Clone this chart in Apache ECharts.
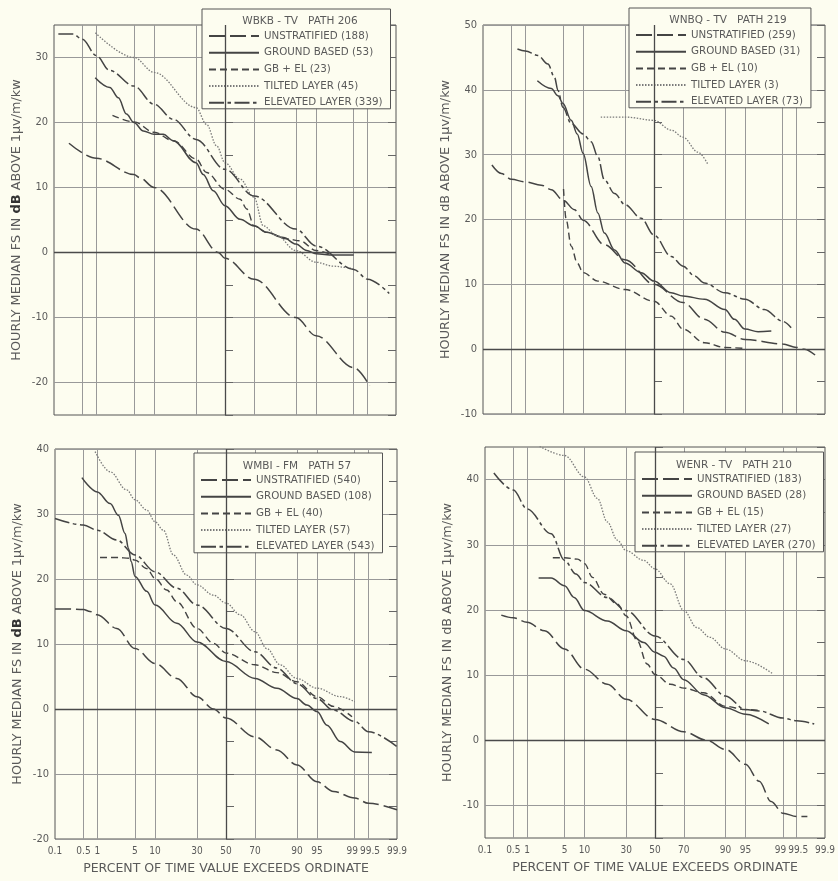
<!DOCTYPE html>
<html><head><meta charset="utf-8">
<script src="https://cdn.jsdelivr.net/npm/echarts@6/dist/echarts.min.js"></script>
<style>html,body{margin:0;padding:0;background:#fdfdf0}#c{width:838px;height:881px}</style>
</head><body><div id="c"></div>
<script>
// ---------- DATA (x = percent of time, y = dB) ----------
const xTickLabels = ['0.1','0.5','1','5','10','30','50','70','90','95','99','99.5','99.9'];
const xGridPct = [0.5,1,5,10,30,50,70,90,95,99,99.5];

// Panel 1: WBKB-TV PATH 206
const p1Title = 'WBKB - TV   PATH 206';
const p1Names = ['UNSTRATIFIED (188)','GROUND BASED (53)','GB + EL (23)','TILTED LAYER (45)','ELEVATED LAYER (339)'];
const p1Unstratified = [[0.24,16.8],[1,14.5],[5,12.0],[6.2,11.5],[10,10.0],[30,3.6],[45.2,0],[50,-0.9],[70,-4.1],[90,-10],[95,-12.8],[99,-17.7],[99.55,-20.5]];
const p1Ground = [[0.95,26.9],[1.87,25.4],[2.7,23.8],[3.75,21.3],[5,20],[7,18.7],[10,18.2],[13.2,18.2],[17.5,17.2],[30,13.8],[34.7,12],[41.6,9.5],[50,7.2],[60.7,5.1],[70,4.1],[77.5,3.1],[85.5,2.3],[90,1.3],[93,0.3],[95,-0.2],[97.5,-0.4],[99,-0.4]];
const p1GbEl = [[2.1,21.1],[5,20.1],[10,18.5],[17.5,17.2],[30,14.4],[37,12.3],[50,9.7],[60.7,8.2],[65.3,6.7],[70,4.1],[77.5,3.1],[86.8,2.1],[91.3,1.8],[95,0.3],[97.5,-0.5]];
const p1Tilted = [[0.96,33.8],[5,30],[10,27.7],[30,22.3],[37,19.7],[44,16.4],[50,13.8],[60.7,11.3],[70,8.5],[75.6,4.1],[82.5,2.6],[90,0.3],[95,-1.5],[97.5,-2.1],[98.6,-2.3],[99,-2.6]];
const p1Elevated = [[0.13,33.6],[0.3,33.6],[0.5,32.8],[1,30.3],[1.87,28],[5,25.6],[10,22.8],[17.5,20.5],[30,17.4],[50,12.8],[70,8.7],[90,3.6],[95,1.0],[99,-2.6],[99.5,-4.1],[99.85,-6.3]];

// Panel 2: WNBQ-TV PATH 219
const p2Title = 'WNBQ - TV   PATH 219';
const p2Names = ['UNSTRATIFIED (259)','GROUND BASED (31)','GB + EL (10)','TILTED LAYER (3)','ELEVATED LAYER (73)'];
const p2Unstratified = [[0.17,28.4],[0.29,27.1],[0.5,26.2],[1,25.8],[2.08,25.3],[3.17,24.6],[5,23.0],[7.55,21.5],[10,19.9],[18.5,16.1],[30,13.8],[50,10.0],[70,7.2],[81.9,4.6],[90,2.6],[95,1.5],[99,0.8],[99.5,0.26],[99.67,0],[99.82,-0.9]];
const p2Ground = [[1.75,41.4],[3.17,40.2],[4.13,39.1],[5,37.9],[6.73,35.3],[8.26,33.2],[10,30.2],[12.8,25.1],[15.5,21.0],[18.5,17.9],[23.8,15.3],[30,13.3],[40.8,11.8],[50,10.5],[62.2,8.7],[70,8.2],[81.9,7.7],[90,6.1],[92.7,4.6],[95,3.1],[97,2.7],[98.3,2.8]];
const p2GbEl = [[5.1,24.7],[5.64,19.9],[6.73,15.9],[8.26,13.3],[10,11.8],[15.5,10.5],[30,9.2],[50,7.4],[62.2,5.1],[70,3.1],[81.9,1.0],[90,0.26],[95,0.1]];
const p2Tilted = [[16.8,35.8],[30,35.8],[50,35.3],[62.2,33.8],[70,32.7],[78.6,30.4],[83.7,28.4]];
const p2Elevated = [[0.68,46.3],[1,46.0],[1.8,45.3],[2.76,44.0],[3.62,41.9],[4.13,39.9],[5,37.3],[6.73,34.8],[10,33.2],[12.8,32.0],[15.5,29.7],[18.5,26.1],[23.8,24.0],[30,22.3],[40.8,20.2],[50,17.6],[62.2,14.3],[70,12.8],[76.8,11.3],[81.9,10.2],[90,8.7],[95,7.7],[97.7,6.1],[99,4.3],[99.34,3.3]];

// Panel 3: WMBI-FM PATH 57
const p3Title = 'WMBI - FM   PATH 57';
const p3Names = ['UNSTRATIFIED (540)','GROUND BASED (108)','GB + EL (40)','TILTED LAYER (57)','ELEVATED LAYER (543)'];
const p3Unstratified = [[0.1,15.4],[0.2,15.4],[0.5,15.3],[0.7,15.0],[1,14.5],[2.42,12.4],[5,9.3],[10,7.0],[18.7,4.7],[30,1.9],[41.1,0],[50,-1.4],[70,-4.3],[82.1,-6.3],[90,-8.6],[95,-11.2],[97.4,-12.7],[99,-13.7],[99.5,-14.5],[99.9,-15.5]];
const p3Ground = [[0.46,35.6],[1,33.4],[1.81,31.6],[2.59,29.8],[3.41,27.0],[3.9,24.7],[4.32,22.7],[5,20.4],[7.6,18.1],[10,16.0],[18.7,13.2],[30,10.3],[50,7.3],[70,4.7],[82.1,3.2],[90,1.6],[92.8,0.6],[95,-0.4],[96.6,-2.5],[98.05,-5.0],[99,-6.6],[99.58,-6.7]];
const p3GbEl = [[1.14,23.3],[2.42,23.3],[4.15,23.2],[5,22.9],[7.6,21.6],[10,20.1],[14.2,18.3],[18.7,16.5],[30,12.4],[41.1,10.1],[50,8.6],[70,6.8],[82.1,5.6],[90,4.2],[95,1.9],[97.4,0.4],[98.86,-1.2]];
const p3Tilted = [[0.9,39.6],[1.81,36.5],[3.64,33.7],[5,32.2],[7.6,30.6],[10,28.8],[12.9,27.5],[17.1,23.7],[23.9,20.6],[30,19.1],[41.1,17.5],[50,16.3],[60.1,14.5],[70,11.9],[77,9.3],[83.6,6.8],[90,4.7],[95,3.2],[98.05,1.9],[99,1.1]];
const p3Elevated = [[0.1,29.3],[0.5,28.3],[1,27.5],[2.42,26.0],[5,23.7],[10,21.1],[18.7,18.6],[30,16.0],[50,12.4],[70,8.8],[82.1,6.3],[90,3.9],[95,1.6],[97.4,-0.2],[99,-1.9],[99.5,-3.5],[99.9,-5.8]];

// Panel 4: WENR-TV PATH 210
const p4Title = 'WENR - TV   PATH 210';
const p4Names = ['UNSTRATIFIED (183)','GROUND BASED (28)','GB + EL (15)','TILTED LAYER (27)','ELEVATED LAYER (270)'];
const p4Unstratified = [[0.26,19.2],[0.5,18.8],[1,18.1],[2.23,16.8],[5,14.0],[10,10.9],[19.3,8.6],[30,6.3],[50,3.2],[70,1.3],[82.6,0],[90,-1.4],[95,-3.7],[97.1,-6.3],[98.26,-9.4],[99,-11.2],[99.5,-11.7],[99.72,-11.7]];
const p4Ground = [[1.72,24.9],[2.95,24.9],[5,23.7],[7.1,21.9],[10,19.9],[19.3,18.3],[30,16.8],[41.9,15.0],[50,13.5],[56.2,12.9],[63.2,11.1],[70,9.3],[81,7.0],[90,5.0],[95,4.0],[98.07,2.5]];
const p4GbEl = [[3.16,28.0],[5,28.0],[7.97,27.8],[10,27.1],[12.8,25.0],[17.7,22.4],[24.7,20.9],[30,19.1],[37.3,15.3],[44.3,11.7],[50,10.1],[60.9,8.6],[70,8.0],[81,7.3],[90,5.2],[95,4.7],[96.9,4.6]];
const p4Tilted = [[1.8,45.1],[5,43.7],[10,40.4],[14.8,37.1],[19.3,33.5],[24.7,30.7],[30,29.1],[41.9,27.6],[50,26.3],[60.9,24.0],[70,19.9],[77.6,17.3],[84.1,15.8],[90,14.0],[95,12.2],[98.38,10.2]];
const p4Elevated = [[0.17,41.0],[0.5,38.4],[1,35.5],[2.95,31.7],[5,27.6],[7.54,25.5],[10,24.2],[19.3,21.9],[30,19.9],[50,16.0],[70,12.4],[81,9.6],[90,6.8],[95,4.7],[97.1,4.5],[99,3.4],[99.5,3.0],[99.81,2.5]];

const yRanges = [[-25,35],[-10,50],[-20,40],[-15,45]];
const emphasisPct = 50, emphasisY = 0;

// ---------- probability (normal) scale ----------
function probit(p){
  const a=[-3.969683028665376e+01,2.209460984245205e+02,-2.759285104469687e+02,1.383577518672690e+02,-3.066479806614716e+01,2.506628277459239e+00];
  const b=[-5.447609879822406e+01,1.615858368580409e+02,-1.556989798598866e+02,6.680131188771972e+01,-1.328068155288572e+01];
  const c=[-7.784894002430293e-03,-3.223964580411365e-01,-2.400758277161838e+00,-2.549732539343734e+00,4.374664141464968e+00,2.938163982698783e+00];
  const d=[7.784695709041462e-03,3.224671290700398e-01,2.445134137142996e+00,3.754408661907416e+00];
  const pl=0.02425, ph=1-pl; let q,r;
  if(p<pl){q=Math.sqrt(-2*Math.log(p));return (((((c[0]*q+c[1])*q+c[2])*q+c[3])*q+c[4])*q+c[5])/((((d[0]*q+d[1])*q+d[2])*q+d[3])*q+1);}
  if(p<=ph){q=p-0.5;r=q*q;return (((((a[0]*r+a[1])*r+a[2])*r+a[3])*r+a[4])*r+a[5])*q/(((((b[0]*r+b[1])*r+b[2])*r+b[3])*r+b[4])*r+1);}
  q=Math.sqrt(-2*Math.log(1-p));return -(((((c[0]*q+c[1])*q+c[2])*q+c[3])*q+c[4])*q+c[5])/((((d[0]*q+d[1])*q+d[2])*q+d[3])*q+1);
}
const zOf = pct => probit(pct/100);
const xMin = zOf(0.1), xMax = zOf(99.9);
const xLabelZ = xTickLabels.map(s => zOf(parseFloat(s)));
const xGridZ = xGridPct.map(zOf);

// ---------- layout / style ----------
const INK = '#444444', TXT = '#5a5a5a', BG = '#fdfdf0', GRIDC = '#999999';
const FONT = 'DejaVu Sans';
const NARROW = '"Liberation Sans Narrow", "DejaVu Sans Condensed", "Liberation Sans"';
const panels = [
  {grid:{left:54,top:25,width:342,height:390}, legend:{left:202,top:9}, titleX:295, titleTop:11, bottom:false, bold:true,
   title:p1Title, names:p1Names, series:[p1Unstratified,p1Ground,p1GbEl,p1Tilted,p1Elevated]},
  {grid:{left:483,top:25,width:342,height:389}, legend:{left:629,top:8}, titleX:723, titleTop:10, bottom:false, bold:false,
   title:p2Title, names:p2Names, series:[p2Unstratified,p2Ground,p2GbEl,p2Tilted,p2Elevated]},
  {grid:{left:55,top:449,width:342,height:390}, legend:{left:194,top:453}, titleX:292, titleTop:456, bottom:true, bold:true,
   title:p3Title, names:p3Names, series:[p3Unstratified,p3Ground,p3GbEl,p3Tilted,p3Elevated]},
  {grid:{left:485,top:447,width:342,height:391}, legend:{left:635,top:452}, titleX:729, titleTop:455, bottom:true, bold:false,
   title:p4Title, names:p4Names, series:[p4Unstratified,p4Ground,p4GbEl,p4Tilted,p4Elevated]}
];
const lineStyles = [
  {type:[16,5], color:INK, width:1.5},
  {type:'solid', color:INK, width:1.5},
  {type:[7,4], color:INK, width:1.4},
  {type:[1.5,1.5], color:'#7a7a7a', width:1.3},
  {type:[15,3.5,3.5,3.5], color:INK, width:1.5}
];

const option = {backgroundColor:BG, animation:false, grid:[], xAxis:[], yAxis:[], series:[], legend:[], title:[]};

panels.forEach((p,gi)=>{
  option.grid.push(Object.assign({show:true, borderColor:'#555', borderWidth:1, backgroundColor:'transparent'}, p.grid));
  option.xAxis.push({
    gridIndex:gi, type:'value', min:xMin, max:xMax, position:'bottom',
    axisLine:{show:false},
    axisTick:{show:false, customValues:xGridZ},
    splitLine:{show:true, lineStyle:{color:GRIDC, width:1}},
    axisLabel:{show:p.bottom, customValues:xLabelZ, showMinLabel:true, showMaxLabel:true, margin:7,
      fontFamily:NARROW, fontSize:10, color:TXT,
      rich:{l:{fontFamily:NARROW, fontSize:10, color:TXT, padding:[0,5,0,0]}, r:{fontFamily:NARROW, fontSize:10, color:TXT, padding:[0,0,0,3]}},
      formatter: v => {
        let bi=0,bd=1e9; xLabelZ.forEach((zz,i)=>{const dd=Math.abs(zz-v); if(dd<bd){bd=dd;bi=i;}});
        const t = xTickLabels[bi];
        if (t==='99') return '{l|'+t+'}';
        if (t==='99.5') return '{r|'+t+'}';
        return t;
      }},
    name: p.bottom ? 'PERCENT OF TIME VALUE EXCEEDS ORDINATE' : '',
    nameLocation:'middle', nameGap:23,
    nameTextStyle:{fontFamily:FONT, fontSize:12.5, color:TXT}
  });
  const [ymin,ymax] = yRanges[gi];
  const tens=[]; for(let v=Math.ceil(ymin/10)*10; v<=ymax; v+=10) tens.push(v);
  const nameRich = p.bold
    ? '{a|HOURLY MEDIAN FS IN }{b|dB}{a| ABOVE 1μv/m/kw}'
    : '{a|HOURLY MEDIAN FS IN dB ABOVE 1μv/m/kw}';
  option.yAxis.push(
    {gridIndex:gi, type:'value', min:ymin, max:ymax, interval:5, position:'left',
     axisLine:{show:false}, axisTick:{show:true, inside:true, length:8, lineStyle:{color:'#666'}},
     splitLine:{show:false},
     axisLabel:{margin:6, fontFamily:NARROW, fontSize:11, color:TXT, formatter: v => (v%10===0 ? String(v) : '')},
     name:nameRich, nameLocation:'middle', nameGap:31, nameRotate:90,
     nameTextStyle:{rich:{a:{fontFamily:FONT, fontSize:12.8, color:TXT}, b:{fontFamily:FONT, fontSize:13, fontWeight:'bold', color:'#333'}}}},
    {gridIndex:gi, type:'value', min:ymin, max:ymax, interval:5, position:'right',
     axisLine:{show:false}, axisTick:{show:true, inside:true, length:8, lineStyle:{color:'#666'}},
     axisLabel:{show:false}, splitLine:{show:false}},
    {gridIndex:gi, type:'value', min:ymin, max:ymax, position:'left',
     axisLine:{show:false}, axisLabel:{show:false},
     axisTick:{show:false, customValues:tens},
     splitLine:{show:true, lineStyle:{color:GRIDC, width:1}}}
  );
  p.series.forEach((data,si)=>{
    const s = {
      type:'line', name:p.names[si], xAxisIndex:gi, yAxisIndex:gi*3,
      data: data.map(([pc,v]) => [zOf(pc), v]),
      smooth:0.35, smoothMonotone:'x', symbol:'none', showSymbol:false,
      lineStyle:Object.assign({}, lineStyles[si]), itemStyle:{color:lineStyles[si].color},
      z:3
    };
    if(si===0){
      s.markLine = {silent:true, symbol:'none', label:{show:false}, animation:false,
        lineStyle:{color:'#4a4a4a', type:'solid', width:1.3},
        data:[{xAxis:zOf(emphasisPct)},{yAxis:emphasisY}]};
    }
    option.series.push(s);
  });
  option.legend.push({
    orient:'vertical', left:p.legend.left, top:p.legend.top, itemWidth:50, itemHeight:10, itemGap:6.7,
    padding:[22,8,1,6], borderColor:'#555', borderWidth:1, backgroundColor:BG, selectedMode:false,
    itemStyle:{opacity:0},
    textStyle:{fontFamily:FONT, fontSize:10.3, color:TXT}, data:p.names, z:5
  });
  option.title.push({
    text:p.title, left:p.titleX, top:p.titleTop, textAlign:'center', z:8,
    textStyle:{fontFamily:FONT, fontSize:10.5, fontWeight:'normal', color:TXT}
  });
});

const chart = echarts.init(document.getElementById('c'), null, {renderer:'canvas'});
chart.setOption(option);
</script></body></html>
